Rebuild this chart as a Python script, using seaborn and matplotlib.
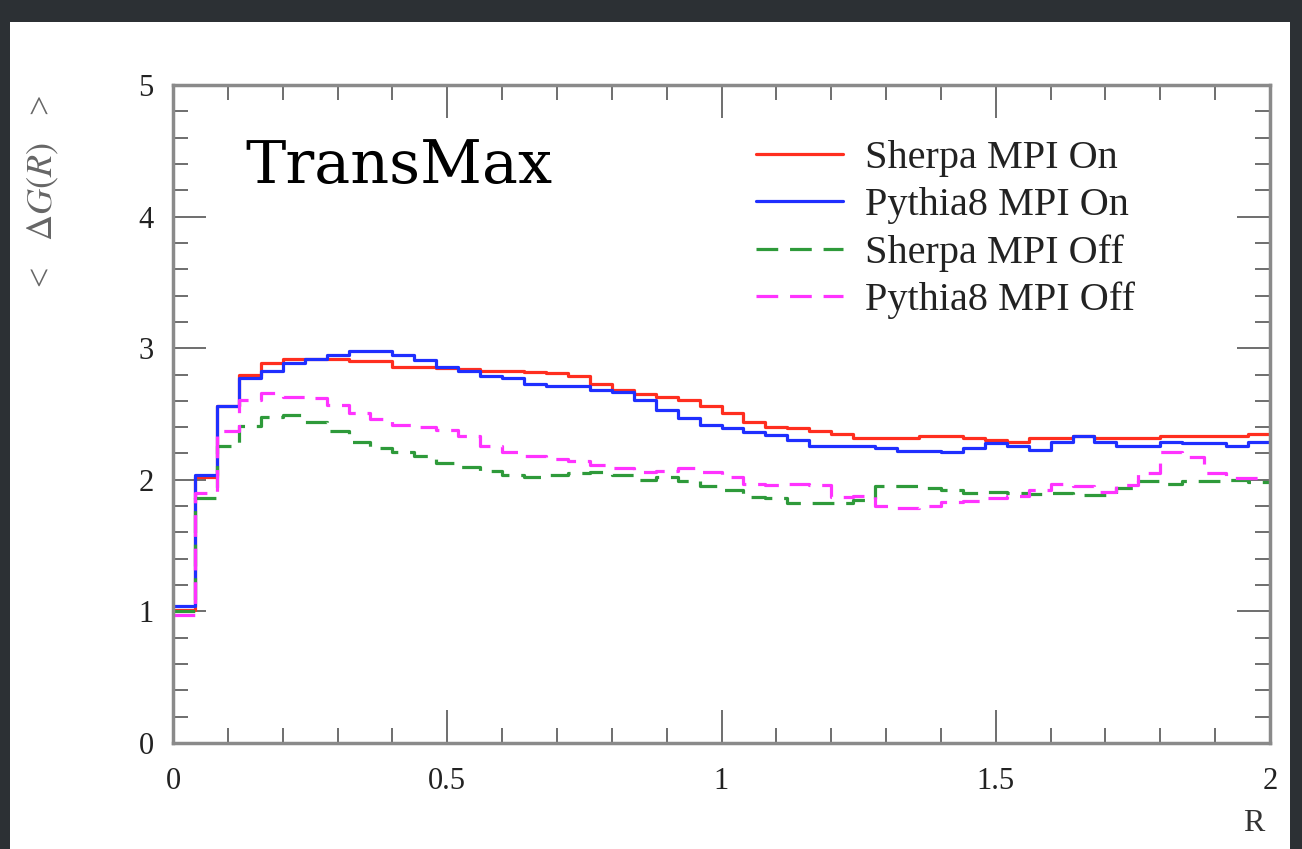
import numpy as np
import pandas as pd
import seaborn as sns
import matplotlib
matplotlib.use("Agg")
import matplotlib.pyplot as plt
from matplotlib.ticker import MultipleLocator

# ---- data (bin width 0.04 in R, 50 bins from 0 to 2) ----
bin_low = 0.0
bin_width = 0.04
sherpa_on = [1.01, 2.02, 2.56, 2.80, 2.885, 2.915, 2.92, 2.92, 2.90, 2.90,
             2.86, 2.86, 2.85, 2.84, 2.83, 2.83, 2.82, 2.81, 2.79, 2.73,
             2.68, 2.65, 2.63, 2.61, 2.56, 2.51, 2.44, 2.40, 2.39, 2.37,
             2.35, 2.32, 2.315, 2.315, 2.33, 2.33, 2.315, 2.30, 2.29, 2.315,
             2.32, 2.33, 2.32, 2.32, 2.315, 2.33, 2.33, 2.33, 2.33, 2.35]
pythia_on = [1.04, 2.04, 2.56, 2.77, 2.83, 2.885, 2.92, 2.95, 2.98, 2.98,
             2.95, 2.91, 2.86, 2.83, 2.79, 2.77, 2.73, 2.71, 2.71, 2.68,
             2.67, 2.61, 2.53, 2.47, 2.42, 2.39, 2.36, 2.34, 2.30, 2.26,
             2.255, 2.255, 2.24, 2.22, 2.22, 2.21, 2.24, 2.28, 2.26, 2.23,
             2.29, 2.33, 2.29, 2.26, 2.26, 2.29, 2.28, 2.28, 2.26, 2.29]
sherpa_off = [1.00, 1.86, 2.26, 2.41, 2.48, 2.49, 2.44, 2.37, 2.29, 2.24,
              2.21, 2.18, 2.13, 2.10, 2.07, 2.04, 2.02, 2.04, 2.05, 2.06,
              2.04, 2.00, 2.02, 1.99, 1.95, 1.92, 1.87, 1.86, 1.82, 1.82,
              1.82, 1.85, 1.95, 1.95, 1.94, 1.92, 1.90, 1.905, 1.90, 1.89,
              1.90, 1.885, 1.885, 1.94, 1.99, 1.97, 1.99, 1.99, 2.00, 1.98]
pythia_off = [0.97, 1.90, 2.37, 2.61, 2.66, 2.63, 2.62, 2.57, 2.51, 2.46,
              2.42, 2.40, 2.38, 2.33, 2.26, 2.21, 2.18, 2.16, 2.14, 2.11,
              2.09, 2.06, 2.07, 2.09, 2.06, 2.02, 1.97, 1.96, 1.97, 1.96,
              1.87, 1.88, 1.80, 1.785, 1.80, 1.83, 1.84, 1.86, 1.88, 1.92,
              1.97, 1.95, 1.91, 1.96, 2.05, 2.21, 2.17, 2.05, 2.01, 2.01]
labels = ["Sherpa MPI On", "Pythia8 MPI On", "Sherpa MPI Off", "Pythia8 MPI Off"]
colors = ["#ff2e1f", "#1f2fff", "#2e9a3a", "#ff33ff"]
styles = ["-", "-", (0, (6.8, 3.7)), (0, (6.8, 3.7))]
x_ticks = [0, 0.5, 1, 1.5, 2]
x_ticklabels = ["0", "0.5", "1", "1.5", "2"]
y_ticks = [0, 1, 2, 3, 4, 5]

series = [sherpa_on, pythia_on, sherpa_off, pythia_off]
n = len(sherpa_on)
edges = bin_low + bin_width * np.arange(n + 1)

sns.set_theme(style="white")
plt.rcParams["font.family"] = ["Liberation Serif", "DejaVu Serif"]
plt.rcParams["mathtext.fontset"] = "stix"

W, H = 1302, 849
fig = plt.figure(figsize=(W / 100, H / 100), dpi=100)
fig.patch.set_facecolor("#2c3034")
bg = fig.add_axes([10 / W, 0, (1290 - 10) / W, 1 - 22 / H], zorder=-5)
bg.set_facecolor("white")
bg.set_xticks([])
bg.set_yticks([])
for sp in bg.spines.values():
    sp.set_visible(False)

ax = fig.add_axes([173 / W, 1 - 743 / H, (1270 - 173) / W, (743 - 85) / H], zorder=1)
ax.set_facecolor("white")

for vals, lab, col, ls in zip(series, labels, colors, styles):
    df = pd.DataFrame({"R": edges, "v": list(vals) + [vals[-1]]})
    sns.lineplot(data=df, x="R", y="v", ax=ax, color=col, linestyle=ls,
                 linewidth=2.3, drawstyle="steps-post", label=lab,
                 estimator=None, sort=False)

ax.set_xlim(0, 2)
ax.set_ylim(0, 5)
ax.set_xticks(x_ticks)
ax.set_xticklabels(x_ticklabels)
ax.set_yticks(y_ticks)
ax.xaxis.set_minor_locator(MultipleLocator(0.1))
ax.yaxis.set_minor_locator(MultipleLocator(0.2))
ax.tick_params(which="both", direction="in", top=True, right=True,
               bottom=True, left=True, color="#555555")
ax.tick_params(which="major", length=24, width=1.2, labelsize=22,
               labelcolor="#222222")
ax.tick_params(which="minor", length=11, width=1.2)
ax.tick_params(axis="x", which="major", pad=17)
ax.tick_params(axis="y", which="major", pad=14)
for sp in ax.spines.values():
    sp.set_color("#8a8a8a")
    sp.set_linewidth(2.5)

ax.set_xlabel("R", loc="right", fontsize=23, color="#333333")
ax.xaxis.set_label_coords(0.995, -0.10)
ax.set_ylabel(r"<   $\Delta G(R)$   >", loc="top", fontsize=26, color="#666666")
ax.yaxis.set_label_coords(-0.102, 0.985)

ax.text(0.0656, 0.851, "TransMax", transform=ax.transAxes,
        fontsize=43.5, family="DejaVu Serif", color="black", va="baseline")

leg = ax.legend(loc="upper left", bbox_to_anchor=(0.531, 0.917), frameon=False,
                fontsize=29, handlelength=2.18, handletextpad=0.55,
                labelspacing=0.25, borderpad=0, borderaxespad=0)
for t in leg.get_texts():
    t.set_color("#222222")

fig.savefig("out.png", dpi=100, facecolor=fig.get_facecolor())
